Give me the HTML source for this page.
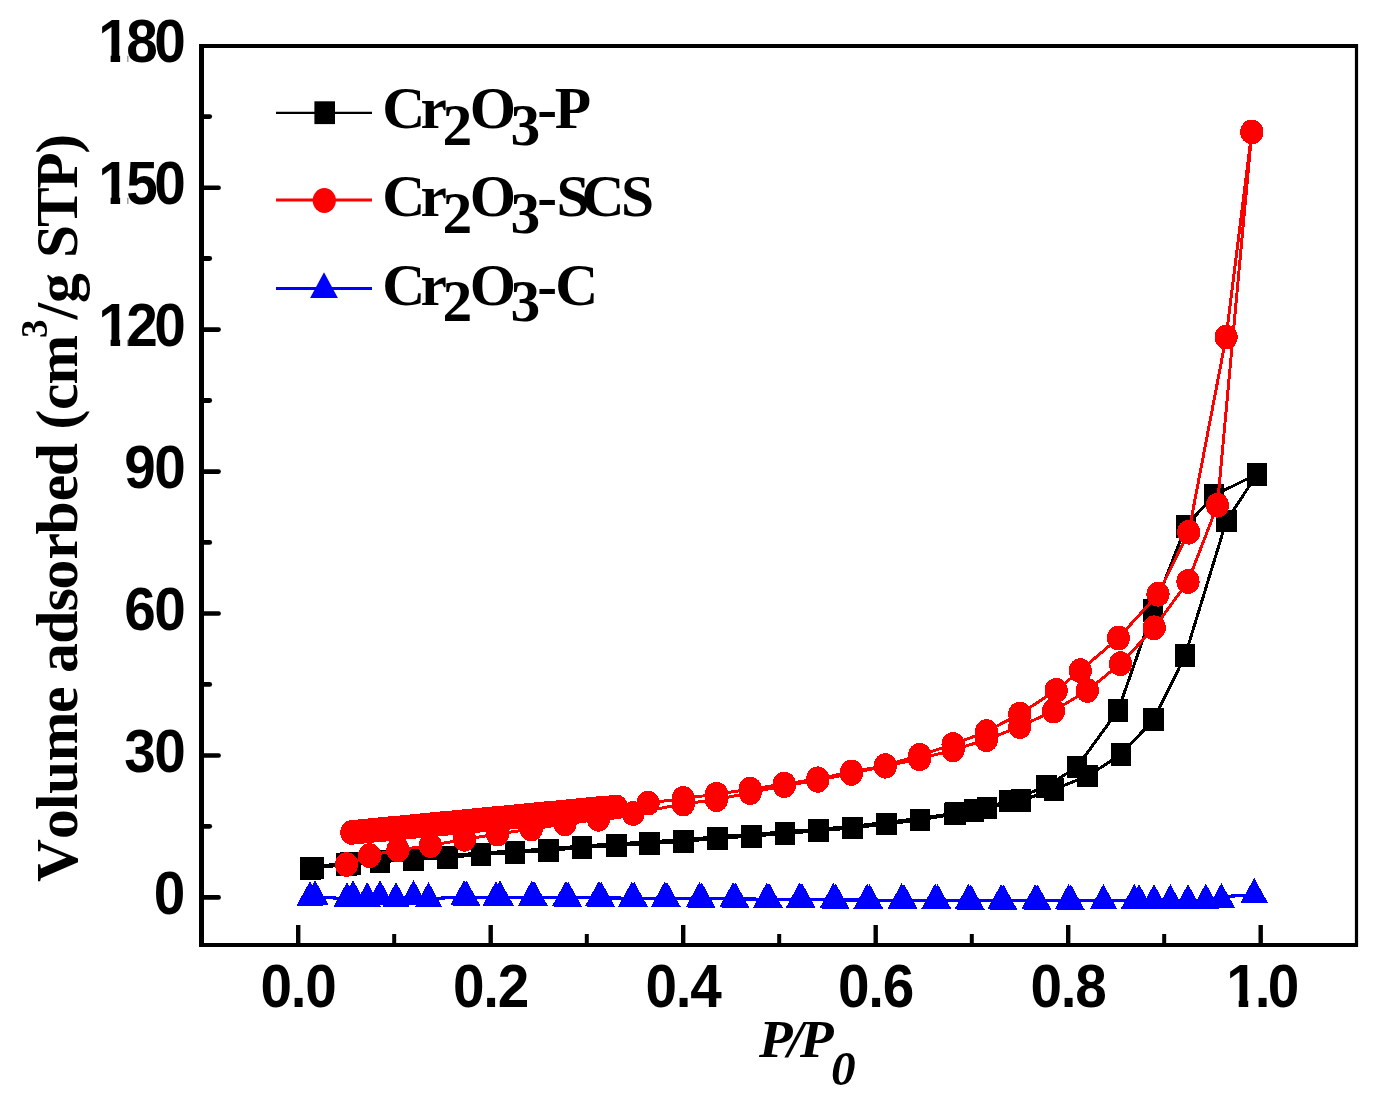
<!DOCTYPE html>
<html lang="en"><head><meta charset="utf-8"><title>N2 adsorption isotherms</title>
<style>html,body{margin:0;padding:0;background:#fff}body{width:1378px;height:1105px;overflow:hidden}svg{display:block}.sans{font-family:"Liberation Sans",Arial,sans-serif;font-weight:bold;fill:#000}.serif{font-family:"Liberation Serif","Times New Roman",serif;font-weight:bold;fill:#000}</style></head><body>
<svg width="1378" height="1105" viewBox="0 0 1378 1105">
<rect width="1378" height="1105" fill="#fff"/>
<g id="series-p" shape-rendering="crispEdges">
<polyline fill="none" stroke="#000" stroke-width="3.0" stroke-linejoin="round" stroke-linecap="round" points="310.4,868.5 346.4,864.6 380.0,861.8 413.5,859.5 447.2,857.5 481.0,854.5 515.0,852.6 548.6,850.5 582.1,847.5 616.2,845.5 649.4,843.3 683.3,841.5 717.4,838.3 751.2,836.2 784.9,833.4 818.6,830.8 852.3,828.0 886.2,824.0 920.0,819.9 954.5,814.0 987.0,808.0 1021.0,800.5 1054.0,789.5 1087.6,776.0 1120.9,754.6 1153.7,719.5 1185.1,655.8 1226.4,520.9 1257.1,474.1"/>
<polyline fill="none" stroke="#000" stroke-width="3.0" stroke-linejoin="round" stroke-linecap="round" points="1257.1,474.1 1214.0,495.3 1185.9,526.2 1153.1,610.5 1118.1,710.5 1077.0,767.0 1046.6,786.3 1009.5,801.0 974.0,810.5 955.5,813.2 920.0,818.3 886.2,822.4 852.3,826.4 818.6,829.2 784.9,831.8 751.2,834.6 717.4,836.7 683.3,839.9 649.4,841.7 616.2,843.9 582.1,845.9 548.6,848.9 515.0,851.0 481.0,852.9 447.2,855.9 413.5,857.9 380.0,860.1 347.9,863.0 311.9,866.9"/>
<g fill="#000"><rect x="300.1" y="857.1" width="20.6" height="22.8"/><rect x="336.1" y="853.2" width="20.6" height="22.8"/><rect x="369.7" y="850.4" width="20.6" height="22.8"/><rect x="403.2" y="848.1" width="20.6" height="22.8"/><rect x="436.9" y="846.1" width="20.6" height="22.8"/><rect x="470.7" y="843.1" width="20.6" height="22.8"/><rect x="504.7" y="841.2" width="20.6" height="22.8"/><rect x="538.3" y="839.1" width="20.6" height="22.8"/><rect x="571.8" y="836.1" width="20.6" height="22.8"/><rect x="606.0" y="834.1" width="20.6" height="22.8"/><rect x="639.1" y="831.9" width="20.6" height="22.8"/><rect x="673.0" y="830.1" width="20.6" height="22.8"/><rect x="707.1" y="826.9" width="20.6" height="22.8"/><rect x="740.9" y="824.8" width="20.6" height="22.8"/><rect x="774.6" y="822.0" width="20.6" height="22.8"/><rect x="808.3" y="819.4" width="20.6" height="22.8"/><rect x="842.0" y="816.6" width="20.6" height="22.8"/><rect x="875.9" y="812.6" width="20.6" height="22.8"/><rect x="909.7" y="808.5" width="20.6" height="22.8"/><rect x="944.2" y="802.6" width="20.6" height="22.8"/><rect x="976.7" y="796.6" width="20.6" height="22.8"/><rect x="1010.7" y="789.1" width="20.6" height="22.8"/><rect x="1043.7" y="778.1" width="20.6" height="22.8"/><rect x="1077.3" y="764.6" width="20.6" height="22.8"/><rect x="1110.6" y="743.2" width="20.6" height="22.8"/><rect x="1143.4" y="708.1" width="20.6" height="22.8"/><rect x="1174.8" y="644.4" width="20.6" height="22.8"/><rect x="1216.1" y="509.5" width="20.6" height="22.8"/><rect x="1246.8" y="462.7" width="20.6" height="22.8"/><rect x="1246.8" y="462.7" width="20.6" height="22.8"/><rect x="1203.7" y="483.9" width="20.6" height="22.8"/><rect x="1175.6" y="514.8" width="20.6" height="22.8"/><rect x="1142.8" y="599.1" width="20.6" height="22.8"/><rect x="1107.8" y="699.1" width="20.6" height="22.8"/><rect x="1066.7" y="755.6" width="20.6" height="22.8"/><rect x="1036.3" y="774.9" width="20.6" height="22.8"/><rect x="999.2" y="789.6" width="20.6" height="22.8"/><rect x="963.7" y="799.1" width="20.6" height="22.8"/><rect x="945.2" y="801.8" width="20.6" height="22.8"/><rect x="303.7" y="856.5" width="20.6" height="22.8"/><rect x="340.3" y="852.0" width="20.6" height="22.8"/></g></g>
<g id="series-scs" shape-rendering="crispEdges">
<polyline fill="none" stroke="#fe0000" stroke-width="2.95" stroke-linejoin="round" stroke-linecap="round" points="346.5,864.5 369.6,855.6 398.0,849.8 430.4,845.5 464.5,839.3 497.5,834.0 531.2,829.0 565.0,824.0 598.5,819.3 633.1,813.4 683.3,804.0 716.5,799.6 750.2,792.6 784.3,785.6 817.7,780.3 851.4,773.4 885.3,766.2 919.6,758.8 953.1,750.0 986.5,739.7 1019.8,726.5 1053.5,711.0 1087.4,690.5 1120.5,663.7 1154.2,627.8 1188.0,581.5 1217.4,505.2 1251.8,131.9"/>
<polyline fill="none" stroke="#fe0000" stroke-width="2.95" stroke-linejoin="round" stroke-linecap="round" points="1251.8,131.9 1226.1,337.1 1188.7,532.2 1158.0,594.2 1118.4,638.0 1080.3,670.6 1056.2,690.3 1019.8,714.0 986.5,731.5 953.1,744.5 919.6,755.3 885.3,765.6 851.4,772.0 817.7,778.8 784.3,784.1 750.2,789.1 716.5,794.2 683.3,798.5 648.1,803.1 616.2,807.0 611.5,807.5 606.8,807.9 602.1,808.4 597.4,808.8 592.6,809.3 587.9,809.7 583.2,810.2 578.5,810.6 573.7,811.1 569.0,811.5 564.3,812.0 559.6,812.4 554.8,812.9 550.1,813.4 545.4,813.8 540.7,814.3 536.0,814.7 531.2,815.2 526.5,815.6 521.8,816.1 517.1,816.5 512.3,817.0 507.6,817.4 502.9,817.9 498.2,818.3 493.4,818.8 488.7,819.2 484.0,819.7 479.3,820.2 474.6,820.6 469.8,821.1 465.1,821.5 460.4,822.0 455.7,822.4 450.9,822.9 446.2,823.3 441.5,823.8 436.8,824.2 432.0,824.7 427.3,825.1 422.6,825.6 417.9,826.0 413.2,826.5 408.4,827.0 403.7,827.4 399.0,827.9 394.3,828.3 389.5,828.8 384.8,829.2 380.1,829.7 375.4,830.1 370.6,830.6 365.9,831.0 361.2,831.5 356.5,831.9 351.8,832.4"/>
<g fill="#fe0000"><ellipse cx="346.5" cy="864.5" rx="11.6" ry="12.4"/><ellipse cx="369.6" cy="855.6" rx="11.6" ry="12.4"/><ellipse cx="398.0" cy="849.8" rx="11.6" ry="12.4"/><ellipse cx="430.4" cy="845.5" rx="11.6" ry="12.4"/><ellipse cx="464.5" cy="839.3" rx="11.6" ry="12.4"/><ellipse cx="497.5" cy="834.0" rx="11.6" ry="12.4"/><ellipse cx="531.2" cy="829.0" rx="11.6" ry="12.4"/><ellipse cx="565.0" cy="824.0" rx="11.6" ry="12.4"/><ellipse cx="598.5" cy="819.3" rx="11.6" ry="12.4"/><ellipse cx="633.1" cy="813.4" rx="11.6" ry="12.4"/><ellipse cx="683.3" cy="804.0" rx="11.6" ry="12.4"/><ellipse cx="716.5" cy="799.6" rx="11.6" ry="12.4"/><ellipse cx="750.2" cy="792.6" rx="11.6" ry="12.4"/><ellipse cx="784.3" cy="785.6" rx="11.6" ry="12.4"/><ellipse cx="817.7" cy="780.3" rx="11.6" ry="12.4"/><ellipse cx="851.4" cy="773.4" rx="11.6" ry="12.4"/><ellipse cx="885.3" cy="766.2" rx="11.6" ry="12.4"/><ellipse cx="919.6" cy="758.8" rx="11.6" ry="12.4"/><ellipse cx="953.1" cy="750.0" rx="11.6" ry="12.4"/><ellipse cx="986.5" cy="739.7" rx="11.6" ry="12.4"/><ellipse cx="1019.8" cy="726.5" rx="11.6" ry="12.4"/><ellipse cx="1053.5" cy="711.0" rx="11.6" ry="12.4"/><ellipse cx="1087.4" cy="690.5" rx="11.6" ry="12.4"/><ellipse cx="1120.5" cy="663.7" rx="11.6" ry="12.4"/><ellipse cx="1154.2" cy="627.8" rx="11.6" ry="12.4"/><ellipse cx="1188.0" cy="581.5" rx="11.6" ry="12.4"/><ellipse cx="1217.4" cy="505.2" rx="11.6" ry="12.4"/><ellipse cx="1251.8" cy="131.9" rx="11.6" ry="12.4"/><ellipse cx="1251.8" cy="131.9" rx="11.6" ry="12.4"/><ellipse cx="1226.1" cy="337.1" rx="11.6" ry="12.4"/><ellipse cx="1188.7" cy="532.2" rx="11.6" ry="12.4"/><ellipse cx="1158.0" cy="594.2" rx="11.6" ry="12.4"/><ellipse cx="1118.4" cy="638.0" rx="11.6" ry="12.4"/><ellipse cx="1080.3" cy="670.6" rx="11.6" ry="12.4"/><ellipse cx="1056.2" cy="690.3" rx="11.6" ry="12.4"/><ellipse cx="1019.8" cy="714.0" rx="11.6" ry="12.4"/><ellipse cx="986.5" cy="731.5" rx="11.6" ry="12.4"/><ellipse cx="953.1" cy="744.5" rx="11.6" ry="12.4"/><ellipse cx="919.6" cy="755.3" rx="11.6" ry="12.4"/><ellipse cx="885.3" cy="765.6" rx="11.6" ry="12.4"/><ellipse cx="851.4" cy="772.0" rx="11.6" ry="12.4"/><ellipse cx="817.7" cy="778.8" rx="11.6" ry="12.4"/><ellipse cx="784.3" cy="784.1" rx="11.6" ry="12.4"/><ellipse cx="750.2" cy="789.1" rx="11.6" ry="12.4"/><ellipse cx="716.5" cy="794.2" rx="11.6" ry="12.4"/><ellipse cx="683.3" cy="798.5" rx="11.6" ry="12.4"/><ellipse cx="648.1" cy="803.1" rx="11.6" ry="12.4"/><ellipse cx="616.2" cy="807.0" rx="11.6" ry="12.4"/><ellipse cx="611.5" cy="807.5" rx="11.6" ry="12.4"/><ellipse cx="606.8" cy="807.9" rx="11.6" ry="12.4"/><ellipse cx="602.1" cy="808.4" rx="11.6" ry="12.4"/><ellipse cx="597.4" cy="808.8" rx="11.6" ry="12.4"/><ellipse cx="592.6" cy="809.3" rx="11.6" ry="12.4"/><ellipse cx="587.9" cy="809.7" rx="11.6" ry="12.4"/><ellipse cx="583.2" cy="810.2" rx="11.6" ry="12.4"/><ellipse cx="578.5" cy="810.6" rx="11.6" ry="12.4"/><ellipse cx="573.7" cy="811.1" rx="11.6" ry="12.4"/><ellipse cx="569.0" cy="811.5" rx="11.6" ry="12.4"/><ellipse cx="564.3" cy="812.0" rx="11.6" ry="12.4"/><ellipse cx="559.6" cy="812.4" rx="11.6" ry="12.4"/><ellipse cx="554.8" cy="812.9" rx="11.6" ry="12.4"/><ellipse cx="550.1" cy="813.4" rx="11.6" ry="12.4"/><ellipse cx="545.4" cy="813.8" rx="11.6" ry="12.4"/><ellipse cx="540.7" cy="814.3" rx="11.6" ry="12.4"/><ellipse cx="536.0" cy="814.7" rx="11.6" ry="12.4"/><ellipse cx="531.2" cy="815.2" rx="11.6" ry="12.4"/><ellipse cx="526.5" cy="815.6" rx="11.6" ry="12.4"/><ellipse cx="521.8" cy="816.1" rx="11.6" ry="12.4"/><ellipse cx="517.1" cy="816.5" rx="11.6" ry="12.4"/><ellipse cx="512.3" cy="817.0" rx="11.6" ry="12.4"/><ellipse cx="507.6" cy="817.4" rx="11.6" ry="12.4"/><ellipse cx="502.9" cy="817.9" rx="11.6" ry="12.4"/><ellipse cx="498.2" cy="818.3" rx="11.6" ry="12.4"/><ellipse cx="493.4" cy="818.8" rx="11.6" ry="12.4"/><ellipse cx="488.7" cy="819.2" rx="11.6" ry="12.4"/><ellipse cx="484.0" cy="819.7" rx="11.6" ry="12.4"/><ellipse cx="479.3" cy="820.2" rx="11.6" ry="12.4"/><ellipse cx="474.6" cy="820.6" rx="11.6" ry="12.4"/><ellipse cx="469.8" cy="821.1" rx="11.6" ry="12.4"/><ellipse cx="465.1" cy="821.5" rx="11.6" ry="12.4"/><ellipse cx="460.4" cy="822.0" rx="11.6" ry="12.4"/><ellipse cx="455.7" cy="822.4" rx="11.6" ry="12.4"/><ellipse cx="450.9" cy="822.9" rx="11.6" ry="12.4"/><ellipse cx="446.2" cy="823.3" rx="11.6" ry="12.4"/><ellipse cx="441.5" cy="823.8" rx="11.6" ry="12.4"/><ellipse cx="436.8" cy="824.2" rx="11.6" ry="12.4"/><ellipse cx="432.0" cy="824.7" rx="11.6" ry="12.4"/><ellipse cx="427.3" cy="825.1" rx="11.6" ry="12.4"/><ellipse cx="422.6" cy="825.6" rx="11.6" ry="12.4"/><ellipse cx="417.9" cy="826.0" rx="11.6" ry="12.4"/><ellipse cx="413.2" cy="826.5" rx="11.6" ry="12.4"/><ellipse cx="408.4" cy="827.0" rx="11.6" ry="12.4"/><ellipse cx="403.7" cy="827.4" rx="11.6" ry="12.4"/><ellipse cx="399.0" cy="827.9" rx="11.6" ry="12.4"/><ellipse cx="394.3" cy="828.3" rx="11.6" ry="12.4"/><ellipse cx="389.5" cy="828.8" rx="11.6" ry="12.4"/><ellipse cx="384.8" cy="829.2" rx="11.6" ry="12.4"/><ellipse cx="380.1" cy="829.7" rx="11.6" ry="12.4"/><ellipse cx="375.4" cy="830.1" rx="11.6" ry="12.4"/><ellipse cx="370.6" cy="830.6" rx="11.6" ry="12.4"/><ellipse cx="365.9" cy="831.0" rx="11.6" ry="12.4"/><ellipse cx="361.2" cy="831.5" rx="11.6" ry="12.4"/><ellipse cx="356.5" cy="831.9" rx="11.6" ry="12.4"/><ellipse cx="351.8" cy="832.4" rx="11.6" ry="12.4"/></g></g>
<g id="series-c" shape-rendering="crispEdges">
<polyline fill="none" stroke="#0000fe" stroke-width="3.2" stroke-linejoin="round" stroke-linecap="round" points="310.0,897.8 315.0,896.8 347.0,898.8 353.0,896.8 367.2,898.8 380.0,896.8 396.0,898.8 413.5,896.8 428.5,898.8 465.3,896.8 496.0,897.8 500.0,897.3 533.0,897.3 567.0,897.8 600.0,897.8 633.1,898.3 665.9,898.3 700.6,898.8 734.3,898.8 768.0,899.3 800.8,899.3 834.5,899.8 868.4,900.2 902.7,900.2 936.4,900.2 969.6,900.6 1002.3,900.8 1036.4,900.8 1069.7,900.8 1103.4,900.8 1134.3,900.8 1139.0,900.8 1154.0,900.8 1170.4,900.8 1188.0,900.8 1205.8,900.3 1221.4,899.8 1228.0,896.3 1240.0,895.6 1254.2,894.6"/>
<g fill="#0000fe"><polygon points="310.0,881.0 296.2,906.2 323.8,906.2"/><polygon points="315.0,880.0 301.2,905.2 328.8,905.2"/><polygon points="347.0,882.0 333.2,907.2 360.8,907.2"/><polygon points="353.0,880.0 339.2,905.2 366.8,905.2"/><polygon points="367.2,882.0 353.4,907.2 381.1,907.2"/><polygon points="380.0,880.0 366.2,905.2 393.8,905.2"/><polygon points="396.0,882.0 382.2,907.2 409.8,907.2"/><polygon points="413.5,880.0 399.7,905.2 427.3,905.2"/><polygon points="428.5,882.0 414.7,907.2 442.3,907.2"/><polygon points="464.1,880.0 450.3,905.2 477.9,905.2"/><polygon points="466.5,880.5 452.7,905.7 480.3,905.7"/><polygon points="496.0,881.0 482.2,906.2 509.8,906.2"/><polygon points="500.0,880.5 486.2,905.7 513.8,905.7"/><polygon points="531.8,880.5 518.0,905.7 545.6,905.7"/><polygon points="534.2,881.0 520.4,906.2 548.0,906.2"/><polygon points="565.8,881.0 552.0,906.2 579.6,906.2"/><polygon points="568.2,881.5 554.4,906.7 582.0,906.7"/><polygon points="598.8,881.0 585.0,906.2 612.6,906.2"/><polygon points="601.2,881.5 587.4,906.7 615.0,906.7"/><polygon points="631.9,881.5 618.1,906.7 645.7,906.7"/><polygon points="634.3,882.0 620.5,907.2 648.1,907.2"/><polygon points="664.7,881.5 650.9,906.7 678.5,906.7"/><polygon points="667.1,882.0 653.3,907.2 680.9,907.2"/><polygon points="699.4,882.0 685.6,907.2 713.2,907.2"/><polygon points="701.8,882.5 688.0,907.7 715.6,907.7"/><polygon points="733.1,882.0 719.3,907.2 746.9,907.2"/><polygon points="735.5,882.5 721.7,907.7 749.3,907.7"/><polygon points="766.8,882.5 753.0,907.7 780.6,907.7"/><polygon points="769.2,883.0 755.4,908.2 783.0,908.2"/><polygon points="799.6,882.5 785.8,907.7 813.4,907.7"/><polygon points="802.0,883.0 788.2,908.2 815.8,908.2"/><polygon points="833.3,883.0 819.5,908.2 847.1,908.2"/><polygon points="835.7,883.5 821.9,908.7 849.5,908.7"/><polygon points="867.2,883.4 853.4,908.6 881.0,908.6"/><polygon points="869.6,883.9 855.8,909.1 883.4,909.1"/><polygon points="901.5,883.4 887.7,908.6 915.3,908.6"/><polygon points="903.9,883.9 890.1,909.1 917.7,909.1"/><polygon points="935.2,883.4 921.4,908.6 949.0,908.6"/><polygon points="937.6,883.9 923.8,909.1 951.4,909.1"/><polygon points="968.4,883.8 954.6,909.0 982.2,909.0"/><polygon points="970.8,884.3 957.0,909.5 984.6,909.5"/><polygon points="1001.1,884.0 987.3,909.2 1014.9,909.2"/><polygon points="1003.5,884.5 989.7,909.7 1017.3,909.7"/><polygon points="1035.2,884.0 1021.4,909.2 1049.0,909.2"/><polygon points="1037.6,884.5 1023.8,909.7 1051.4,909.7"/><polygon points="1068.5,884.0 1054.7,909.2 1082.3,909.2"/><polygon points="1070.9,884.5 1057.1,909.7 1084.7,909.7"/><polygon points="1103.4,884.0 1089.6,909.2 1117.2,909.2"/><polygon points="1134.3,884.0 1120.5,909.2 1148.1,909.2"/><polygon points="1139.0,884.0 1125.2,909.2 1152.8,909.2"/><polygon points="1154.0,884.0 1140.2,909.2 1167.8,909.2"/><polygon points="1170.4,884.0 1156.6,909.2 1184.2,909.2"/><polygon points="1188.0,884.0 1174.2,909.2 1201.8,909.2"/><polygon points="1205.8,883.5 1192.0,908.7 1219.6,908.7"/><polygon points="1221.4,883.0 1207.6,908.2 1235.2,908.2"/><polygon points="1254.2,877.8 1240.4,903.0 1268.0,903.0"/></g></g>
<g id="axes" stroke="#000" fill="none">
<line x1="199" y1="46" x2="1358" y2="46" stroke-width="4"/>
<line x1="199" y1="945" x2="1358" y2="945" stroke-width="4"/>
<line x1="201.5" y1="44" x2="201.5" y2="947" stroke-width="5"/>
<line x1="1356.5" y1="44" x2="1356.5" y2="947" stroke-width="3.2"/>
<line x1="203" y1="897.4" x2="218.6" y2="897.4" stroke-width="4.6" stroke-linecap="round"/>
<line x1="203" y1="826.3" x2="209.7" y2="826.3" stroke-width="4.8" stroke-linecap="round"/>
<line x1="203" y1="755.5" x2="218.6" y2="755.5" stroke-width="4.6" stroke-linecap="round"/>
<line x1="203" y1="684.4" x2="209.7" y2="684.4" stroke-width="4.8" stroke-linecap="round"/>
<line x1="203" y1="613.5" x2="218.6" y2="613.5" stroke-width="4.6" stroke-linecap="round"/>
<line x1="203" y1="542.4" x2="209.7" y2="542.4" stroke-width="4.8" stroke-linecap="round"/>
<line x1="203" y1="471.6" x2="218.6" y2="471.6" stroke-width="4.6" stroke-linecap="round"/>
<line x1="203" y1="400.5" x2="209.7" y2="400.5" stroke-width="4.8" stroke-linecap="round"/>
<line x1="203" y1="329.6" x2="218.6" y2="329.6" stroke-width="4.6" stroke-linecap="round"/>
<line x1="203" y1="258.5" x2="209.7" y2="258.5" stroke-width="4.8" stroke-linecap="round"/>
<line x1="203" y1="187.7" x2="218.6" y2="187.7" stroke-width="4.6" stroke-linecap="round"/>
<line x1="203" y1="116.6" x2="209.7" y2="116.6" stroke-width="4.8" stroke-linecap="round"/>
<line x1="298.2" y1="944" x2="298.2" y2="925" stroke-width="4.4"/>
<line x1="394.2" y1="944" x2="394.2" y2="934" stroke-width="4"/>
<line x1="490.7" y1="944" x2="490.7" y2="925" stroke-width="4.4"/>
<line x1="586.8" y1="944" x2="586.8" y2="934" stroke-width="4"/>
<line x1="683.2" y1="944" x2="683.2" y2="925" stroke-width="4.4"/>
<line x1="779.2" y1="944" x2="779.2" y2="934" stroke-width="4"/>
<line x1="875.7" y1="944" x2="875.7" y2="925" stroke-width="4.4"/>
<line x1="971.8" y1="944" x2="971.8" y2="934" stroke-width="4"/>
<line x1="1068.2" y1="944" x2="1068.2" y2="925" stroke-width="4.4"/>
<line x1="1164.2" y1="944" x2="1164.2" y2="934" stroke-width="4"/>
<line x1="1260.7" y1="944" x2="1260.7" y2="925" stroke-width="4.4"/>
</g>
<defs><clipPath id="oneA"><path clip-rule="evenodd" d="M-20,-70H160V20H-20Z M-6.00,-8H13.20V6H-6.00Z M23.30,-8H31.30V6H23.30Z"/></clipPath><clipPath id="oneB"><path clip-rule="evenodd" d="M-20,-70H160V20H-20Z M-2.39,-8H16.81V6H-2.39Z M26.91,-8H36.81V6H26.91Z"/></clipPath></defs>
<g id="ylabels" class="sans" font-size="60.3">
<text transform="translate(153.7,913.6) scale(0.941,1)" letter-spacing="0">0</text>
<text transform="translate(124.2,771.7) scale(0.941,1)" letter-spacing="-1.5">30</text>
<text transform="translate(124.2,629.7) scale(0.941,1)" letter-spacing="-1.5">60</text>
<text transform="translate(124.2,487.8) scale(0.941,1)" letter-spacing="-1.5">90</text>
<text transform="translate(98.2,345.8) scale(0.941,1)" letter-spacing="-3.7" clip-path="url(#oneA)">120</text>
<text transform="translate(98.2,203.9) scale(0.941,1)" letter-spacing="-3.7" clip-path="url(#oneA)">150</text>
<text transform="translate(98.2,61.9) scale(0.941,1)" letter-spacing="-3.7" clip-path="url(#oneA)">180</text>
</g>
<g id="xlabels" class="sans" font-size="60.3">
<text transform="translate(260.4,1007.3) scale(0.941,1)" letter-spacing="-1.26">0.0</text>
<text transform="translate(452.9,1007.3) scale(0.941,1)" letter-spacing="-1.26">0.2</text>
<text transform="translate(645.4,1007.3) scale(0.941,1)" letter-spacing="-1.26">0.4</text>
<text transform="translate(837.9,1007.3) scale(0.941,1)" letter-spacing="-1.26">0.6</text>
<text transform="translate(1030.4,1007.3) scale(0.941,1)" letter-spacing="-1.26">0.8</text>
<text transform="translate(1222.9,1007.3) scale(0.941,1)" letter-spacing="-1.26" clip-path="url(#oneB)" dx="3.61 -1.91 -1.7">1.0</text>
</g>
<text class="serif" font-size="59.6" transform="translate(77.2,882) rotate(-90)" y="0" x="0.0 42.9 71.9 88.1 120.7 168.9 187.0 208.9 238.2 270.8 292.6 322.6 347.6 380.8 405.8 437.0 452.6 472.0 497.6">Volume adsorbed (cm<tspan font-size="37" x="543.9" y="-29.9">3</tspan><tspan y="0" x="562.6 578.9 607.0 623.9 655.1 693.2 728.2">/g STP)</tspan></text>
<text class="serif" font-style="italic" font-size="52" transform="translate(0,1056.9) scale(1.06,1)" x="716.0 743.1 754.8" y="0">P/P</text>
<text class="serif" font-style="italic" font-size="49.3" x="831.0" y="1085.2">0</text>
<line x1="276" y1="112.8" x2="372" y2="112.8" stroke="#000" stroke-width="2.2"/>
<g fill="#000"><rect x="314.4" y="101.3" width="20.6" height="22.8"/></g>
<text class="serif" font-size="59.5" x="382.3 420.5 442.6 469.8 510.6 537.2 554.8" y="127.8 127.8 144.6 127.8 144.6 127.8 127.8">Cr2O3-P</text>
<line x1="276" y1="199.9" x2="372" y2="199.9" stroke="#fe0000" stroke-width="3"/>
<g fill="#fe0000"><ellipse cx="324.3" cy="200.5" rx="11.6" ry="12.4"/></g>
<text class="serif" font-size="59.5" x="382.3 420.5 442.6 469.8 510.6 537.2 556.5 581.5 621.1" y="216.3 216.3 233.1 216.3 233.1 216.3 216.3 216.3 216.3">Cr2O3-SCS</text>
<line x1="276" y1="288.4" x2="372" y2="288.4" stroke="#0000fe" stroke-width="3"/>
<g fill="#0000fe"><polygon points="324.0,272.3 310.1,297.9 337.9,297.9"/></g>
<text class="serif" font-size="59.5" x="382.3 420.5 442.6 469.8 510.6 537.2 555.3" y="304.5 304.5 321.3 304.5 321.3 304.5 304.5">Cr2O3-C</text>
</svg></body></html>
